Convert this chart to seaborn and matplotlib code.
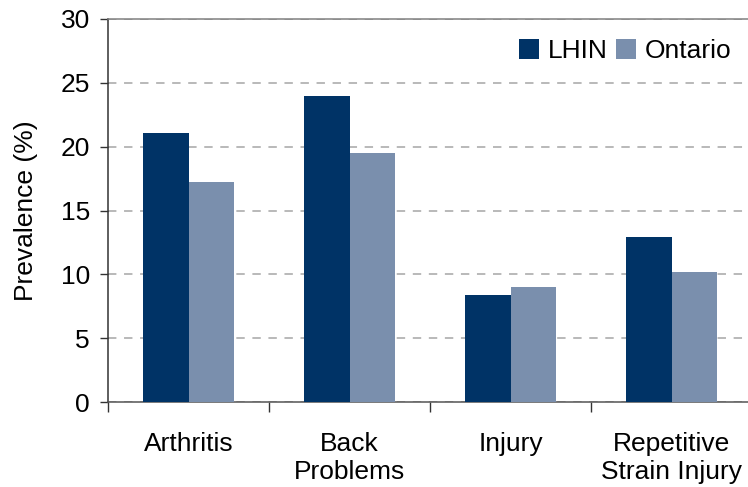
import pandas as pd
import matplotlib.pyplot as plt
import seaborn as sns
from matplotlib.ticker import FixedLocator


conditions = ['Arthritis', 'Back\nProblems', 'Injury', 'Repetitive\nStrain Injury']
lhin = [21.1, 24.0, 8.4, 12.9]
ontario = [17.2, 19.5, 9.0, 10.2]
regions = ['LHIN', 'Ontario']
colors = ['#003366', '#7A8FAD']


def prevalence_chart(filename):
    """
        Grouped bar chart of prevalence by condition, LHIN vs Ontario.
    """
    data = pd.DataFrame({
        'condition': conditions * 2,
        'prevalence': lhin + ontario,
        'region': [regions[0]] * len(conditions) + [regions[1]] * len(conditions),
    })

    sns.set_style('white')
    plt.rcParams['font.family'] = ['Liberation Sans', 'DejaVu Sans']
    plt.rcParams['text.color'] = 'black'
    plt.rcParams['xtick.color'] = 'black'
    plt.rcParams['ytick.color'] = 'black'
    plt.rcParams['axes.labelcolor'] = 'black'

    fig = plt.figure(figsize=(7.48, 4.87), dpi=100)
    ax = fig.add_axes([108 / 748, 85 / 487, 644 / 748, 383 / 487])

    sns.barplot(data=data, x='condition', y='prevalence', hue='region', palette=colors,
                width=0.57, saturation=1, linewidth=0, ax=ax, zorder=3)

    ax.set_xlim(-0.5, 3.5)
    ax.set_ylim(0, 30)
    ax.set_yticks(range(0, 31, 5))
    ax.yaxis.grid(True, linestyle=(0, (5.5, 5)), color='#a6a6a6', linewidth=1.1, zorder=0)
    ax.set_axisbelow(True)

    ax.spines['right'].set_visible(False)
    ax.spines['top'].set_color('#808080')
    ax.spines['left'].set_color('#333333')
    ax.spines['bottom'].set_color('#555555')
    for side in ['top', 'left', 'bottom']:
        ax.spines[side].set_linewidth(1.1)

    ax.tick_params(axis='y', which='major', left=True, length=6, width=1, color='#333333',
                   labelsize=19, pad=7)
    ax.tick_params(axis='x', which='major', bottom=False, labelsize=19, pad=18)
    ax.xaxis.set_minor_locator(FixedLocator([-0.5, 0.5, 1.5, 2.5]))
    ax.tick_params(axis='x', which='minor', bottom=True, length=7, width=1, color='#333333')

    ax.set_xlabel('')
    ax.set_ylabel('Prevalence (%)', fontsize=19, labelpad=16)

    handles, labels = ax.get_legend_handles_labels()
    ax.legend(handles, labels, loc='upper right', bbox_to_anchor=(0.985, 0.975), ncol=2,
              frameon=False, fontsize=19, handlelength=0.75, handleheight=0.75,
              handletextpad=0.35, columnspacing=0.3, borderaxespad=0)

    fig.savefig(filename, dpi=100)


def main():
    prevalence_chart('out.png')


if __name__ == '__main__':
    main()
